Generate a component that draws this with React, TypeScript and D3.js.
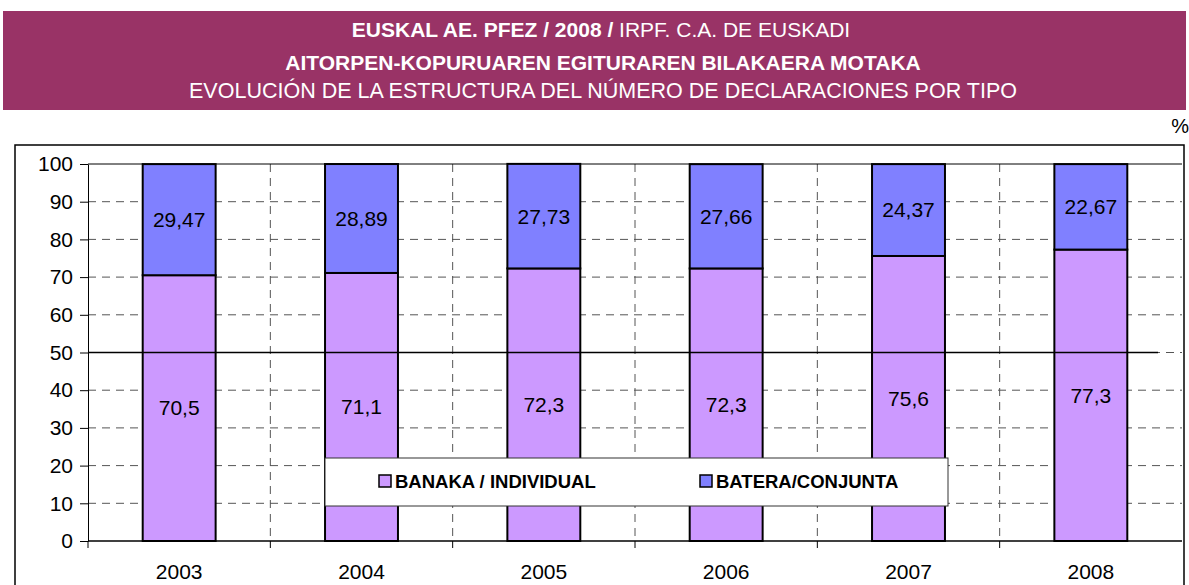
import React, { useRef, useEffect } from 'react';
import * as d3 from 'd3';

const years = ['2003', '2004', '2005', '2006', '2007', '2008'];
const individual = [70.5, 71.1, 72.3, 72.3, 75.6, 77.3];
const conjunta = [29.47, 28.89, 27.73, 27.66, 24.37, 22.67];
const yTicks = [0, 10, 20, 30, 40, 50, 60, 70, 80, 90, 100];

const fmt = (v: number) => String(v).replace('.', ',');

const App = () => {
  const svgRef = useRef<SVGSVGElement>(null);

  useEffect(() => {
    const svg = d3.select(svgRef.current);
    svg.selectAll('*').remove();
    const font = 'Liberation Sans, Arial, sans-serif';

    // title band
    svg.append('rect').attr('x', 3).attr('y', 11).attr('width', 1183).attr('height', 99).attr('fill', '#993366');
    const t1 = svg.append('text').attr('x', 601).attr('y', 37).attr('text-anchor', 'middle')
      .attr('fill', 'white').style('font-family', font).style('font-size', '21px');
    t1.append('tspan').attr('font-weight', 'bold').text('EUSKAL AE. PFEZ / 2008 /');
    t1.append('tspan').text(' IRPF. C.A. DE EUSKADI');
    svg.append('text').attr('x', 603).attr('y', 70).attr('text-anchor', 'middle')
      .attr('fill', 'white').attr('font-weight', 'bold').style('font-family', font).style('font-size', '21px')
      .text('AITORPEN-KOPURUAREN EGITURAREN BILAKAERA MOTAKA');
    svg.append('text').attr('x', 603).attr('y', 98).attr('text-anchor', 'middle')
      .attr('fill', 'white').style('font-family', font).style('font-size', '21.5px')
      .text('EVOLUCIÓN DE LA ESTRUCTURA DEL NÚMERO DE DECLARACIONES POR TIPO');

    svg.append('text').attr('x', 1189).attr('y', 133).attr('text-anchor', 'end')
      .style('font-family', font).style('font-size', '20px').text('%');

    // outer chart frame
    svg.append('rect').attr('x', 15).attr('y', 145).attr('width', 1169).attr('height', 460)
      .attr('fill', 'white').attr('stroke', 'black').attr('stroke-width', 1.5);

    const left = 88, right = 1182, top = 164, bottom = 541;
    const x = d3.scaleBand().domain(years).range([left, right]);
    const y = d3.scaleLinear().domain([0, 100]).range([bottom, top]);

    // horizontal grid
    svg.selectAll('.hgrid').data(yTicks.filter(d => d > 0 && d < 100)).enter().append('line')
      .attr('x1', left).attr('x2', right).attr('y1', d => y(d)).attr('y2', d => y(d))
      .attr('stroke', '#555').attr('stroke-dasharray', '8,6');
    // vertical grid
    svg.selectAll('.vgrid').data(years.slice(1)).enter().append('line')
      .attr('x1', d => x(d)!).attr('x2', d => x(d)!).attr('y1', top).attr('y2', bottom)
      .attr('stroke', '#555').attr('stroke-dasharray', '8,6');
    svg.append('line').attr('x1', left).attr('x2', right).attr('y1', top).attr('y2', top).attr('stroke', 'black');

    // axes
    const yAxis = svg.append('g').attr('transform', `translate(${left},0)`)
      .call(d3.axisLeft(y).tickValues(yTicks).tickSize(8).tickSizeOuter(0));
    yAxis.select('.domain').attr('stroke', 'black');
    yAxis.selectAll('text').style('font-family', font).style('font-size', '21px').attr('x', -15).attr('fill', 'black');

    svg.append('line').attr('x1', left).attr('x2', right).attr('y1', bottom).attr('y2', bottom).attr('stroke', 'black').attr('stroke-width', 1.5);
    svg.selectAll('.xtick').data(years).enter().append('line')
      .attr('x1', d => x(d)!).attr('x2', d => x(d)!).attr('y1', bottom).attr('y2', bottom + 7).attr('stroke', 'black');
    svg.selectAll('.xlab').data(years).enter().append('text')
      .attr('x', d => x(d)! + x.bandwidth() / 2).attr('y', 579).attr('text-anchor', 'middle')
      .style('font-family', font).style('font-size', '21px').text(d => d);

    // bars
    const bw = x.bandwidth() * 0.4;
    const bx = (d: string) => x(d)! + (x.bandwidth() - bw) / 2;
    svg.selectAll('.ind').data(years).enter().append('rect')
      .attr('x', d => bx(d)).attr('width', bw)
      .attr('y', (d, i) => y(individual[i])).attr('height', (d, i) => bottom - y(individual[i]))
      .attr('fill', '#CC99FF').attr('stroke', 'black').attr('stroke-width', 2);
    svg.selectAll('.con').data(years).enter().append('rect')
      .attr('x', d => bx(d)).attr('width', bw)
      .attr('y', (d, i) => y(individual[i] + conjunta[i])).attr('height', (d, i) => y(individual[i]) - y(individual[i] + conjunta[i]))
      .attr('fill', '#8080FF').attr('stroke', 'black').attr('stroke-width', 2);

    // 50 reference line
    svg.append('line').attr('x1', left).attr('x2', 1158).attr('y1', y(50)).attr('y2', y(50)).attr('stroke', 'black').attr('stroke-width', 1.5);

    // labels
    svg.selectAll('.lind').data(years).enter().append('text')
      .attr('x', d => x(d)! + x.bandwidth() / 2).attr('y', (d, i) => y(individual[i] / 2)).attr('dy', '.35em')
      .attr('text-anchor', 'middle').style('font-family', font).style('font-size', '21px')
      .text((d, i) => fmt(individual[i]));
    svg.selectAll('.lcon').data(years).enter().append('text')
      .attr('x', d => x(d)! + x.bandwidth() / 2).attr('y', (d, i) => y(individual[i] + conjunta[i] / 2)).attr('dy', '.35em')
      .attr('text-anchor', 'middle').style('font-family', font).style('font-size', '21px')
      .text((d, i) => fmt(conjunta[i]));

    // legend
    svg.append('rect').attr('x', 325).attr('y', 458).attr('width', 623).attr('height', 48)
      .attr('fill', 'white').attr('stroke', '#333').attr('stroke-width', 1);
    const legend = [
      { name: 'BANAKA / INDIVIDUAL', color: '#CC99FF', x: 379 },
      { name: 'BATERA/CONJUNTA', color: '#8080FF', x: 700 },
    ];
    legend.forEach(l => {
      svg.append('rect').attr('x', l.x).attr('y', 475).attr('width', 12).attr('height', 12)
        .attr('fill', l.color).attr('stroke', 'black').attr('stroke-width', 1.5);
      svg.append('text').attr('x', l.x + 16).attr('y', 488).attr('font-weight', 'bold')
        .style('font-family', font).style('font-size', '18.5px').text(l.name);
    });
  }, []);

  return <svg ref={svgRef} width={1189} height={585} style={{ position: 'absolute', left: 0, top: 0 }}></svg>;
};

export default App;
